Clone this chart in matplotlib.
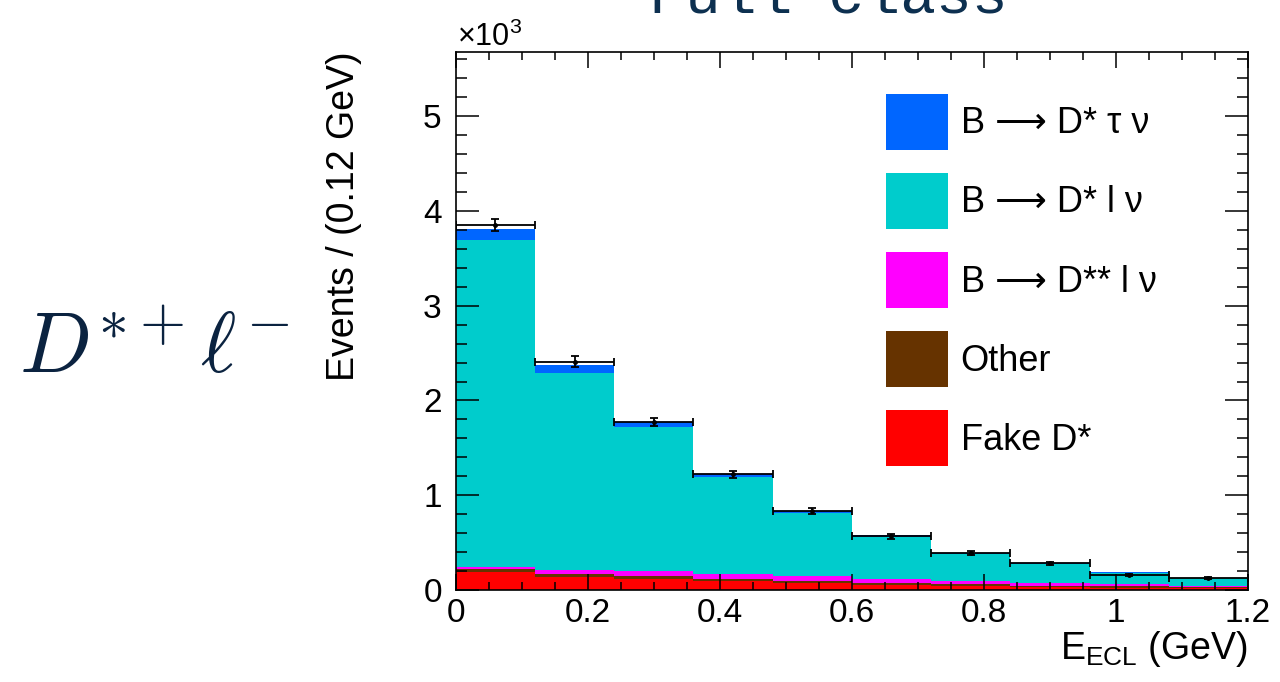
import numpy as np
import matplotlib.pyplot as plt
from matplotlib.patches import Patch
from matplotlib.ticker import MultipleLocator

plt.rcParams['font.family'] = ['Liberation Sans', 'DejaVu Sans']
plt.rcParams['mathtext.fontset'] = 'custom'
plt.rcParams['mathtext.rm'] = 'Liberation Sans'
plt.rcParams['mathtext.it'] = 'Liberation Sans:italic'

# E_ECL bins (GeV), counts in units of 10^3 events
bin_edges = np.arange(0, 1.21, 0.12)
fake_dstar = [0.186, 0.140, 0.116, 0.091, 0.070, 0.053, 0.042, 0.032, 0.024, 0.017]
other = [0.035, 0.029, 0.032, 0.028, 0.028, 0.024, 0.021, 0.013, 0.014, 0.010]
dss_lnu = [0.025, 0.042, 0.056, 0.050, 0.046, 0.042, 0.032, 0.032, 0.025, 0.018]
ds_lnu = [3.444, 2.079, 1.511, 1.021, 0.671, 0.441, 0.288, 0.195, 0.117, 0.076]
ds_taunu = [0.12, 0.08, 0.06, 0.03, 0.02, 0.015, 0.01, 0.008, 0.008, 0.006]
data = [3.85, 2.41, 1.775, 1.22, 0.835, 0.565, 0.393, 0.28, 0.155, 0.127]
data_err = [0.065, 0.055, 0.045, 0.035, 0.03, 0.025, 0.02, 0.017, 0.013, 0.011]

# stacked from bottom to top
stack = [
    (fake_dstar, '#ff0000', 'Fake D*'),
    (other, '#663300', 'Other'),
    (dss_lnu, '#ff00ff', 'B \u27f6 D** l \u03bd'),
    (ds_lnu, '#00cccc', 'B \u27f6 D* l \u03bd'),
    (ds_taunu, '#0066ff', 'B \u27f6 D* \u03c4 \u03bd'),
]

fig = plt.figure(figsize=(12.8, 6.82), dpi=100)
ax = fig.add_axes([0.356, 0.135, 0.619, 0.789])

widths = np.diff(bin_edges)
left = bin_edges[:-1]
bottom = np.zeros(len(left))
for vals, col, lab in stack:
    ax.bar(left, vals, width=widths, bottom=bottom, align='edge', color=col, linewidth=0)
    bottom += np.array(vals)

centers = left + widths / 2
ax.errorbar(centers, data, xerr=widths / 2, yerr=data_err, fmt='o', ms=2.5,
            color='black', ecolor='black', elinewidth=1.3, capsize=3, capthick=1.3)

ax.set_xlim(0, 1.2)
ax.set_ylim(0, 5.68)
ax.xaxis.set_major_locator(MultipleLocator(0.2))
ax.xaxis.set_minor_locator(MultipleLocator(0.05))
ax.yaxis.set_major_locator(MultipleLocator(1))
ax.yaxis.set_minor_locator(MultipleLocator(0.2))
ax.set_xticks([0, 0.2, 0.4, 0.6, 0.8, 1.0, 1.2], ['0', '0.2', '0.4', '0.6', '0.8', '1', '1.2'])

ax.tick_params(axis='both', which='both', direction='in', top=True, right=True, width=1.1, labelsize=24)
ax.tick_params(axis='x', which='major', length=11.5, pad=6)
ax.tick_params(axis='x', which='minor', length=5.8)
ax.tick_params(axis='y', which='major', length=16.5, pad=10)
ax.tick_params(axis='y', which='minor', length=8)
for sp in ax.spines.values():
    sp.set_linewidth(1.2)

ax.set_ylabel('Events / (0.12 GeV)', fontsize=27, loc='top', labelpad=44)
ax.set_xlabel('E$_{\\mathrm{ECL}}$ (GeV)', fontsize=27, loc='right', labelpad=0)

fig.text(0.357, 0.932, '\u00d710$^{3}$', fontsize=22, ha='left', va='baseline')

handles = [Patch(facecolor=col, edgecolor='none', label=lab) for vals, col, lab in stack[::-1]]
ax.legend(handles=handles, loc='upper left', bbox_to_anchor=(0.543, 0.922), frameon=False,
          fontsize=26, handlelength=1.72, handleheight=2.01, labelspacing=0.64,
          handletextpad=0.35, borderpad=0, borderaxespad=0)

fig.text(0.015, 0.453, '$D^{*+}\\ell^{-}$', fontsize=61, color='#0b2340',
         math_fontfamily='cm', ha='left', va='baseline')
fig.text(0.647, 0.982, 'Full class', fontsize=43, family='Liberation Mono',
         color='#0d3050', ha='center', va='baseline')

fig.savefig('out.png', dpi=100)
